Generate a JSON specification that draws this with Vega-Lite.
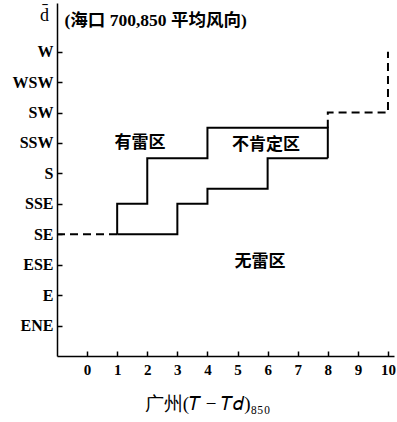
{
  "$schema": "https://vega.github.io/schema/vega-lite/v6.json",
  "width": 337,
  "height": 353,
  "autosize": {"type": "none"},
  "padding": {"left": 57, "top": 3, "right": 3, "bottom": 66},
  "background": "white",
  "config": {
    "view": {"stroke": null},
    "axis": {"grid": false, "domainColor": "black", "tickColor": "black", "labelColor": "black", "titleColor": "black", "domainWidth": 1.5, "tickWidth": 1.5}
  },
  "layer": [
    {
      "data": {"values": [
        {"g": "upper", "i": 1, "x": 1, "y": 4},
        {"g": "upper", "i": 2, "x": 1, "y": 5},
        {"g": "upper", "i": 3, "x": 2, "y": 5},
        {"g": "upper", "i": 4, "x": 2, "y": 6.5},
        {"g": "upper", "i": 5, "x": 4, "y": 6.5},
        {"g": "upper", "i": 6, "x": 4, "y": 7.5},
        {"g": "upper", "i": 7, "x": 8, "y": 7.5},
        {"g": "upper", "i": 8, "x": 8, "y": 6.5},
        {"g": "lower", "i": 1, "x": 1, "y": 4},
        {"g": "lower", "i": 2, "x": 3, "y": 4},
        {"g": "lower", "i": 3, "x": 3, "y": 5},
        {"g": "lower", "i": 4, "x": 4, "y": 5},
        {"g": "lower", "i": 5, "x": 4, "y": 5.5},
        {"g": "lower", "i": 6, "x": 6, "y": 5.5},
        {"g": "lower", "i": 7, "x": 6, "y": 6.5},
        {"g": "lower", "i": 8, "x": 8, "y": 6.5}
      ]},
      "mark": {"type": "line", "color": "black", "strokeWidth": 2, "interpolate": "linear"},
      "encoding": {
        "x": {"field": "x", "type": "quantitative",
          "scale": {"domain": [-1, 10.2], "nice": false, "zero": false},
          "axis": {"values": [0,1,2,3,4,5,6,7,8,9,10], "labelOverlap": false, "labelFlush": false, "tickCount": 11, "tickSize": -5, "labelPadding": 11, "labelFont": "Liberation Serif", "labelFontWeight": "bold", "labelFontSize": 15,
            "title": "广州(𝑇  −  𝑇𝑑)₈₅₀", "titleFont": "Liberation Serif", "titleFontWeight": "normal", "titleFontSize": 19, "titlePadding": 17, "titleX": 150}},
        "y": {"field": "y", "type": "quantitative",
          "scale": {"domain": [0, 11.6], "nice": false, "zero": false},
          "axis": {"values": [1,2,3,4,5,6,7,8,9,10], "labelOverlap": false, "labelFlush": false, "tickCount": 10, "tickSize": -5, "labelPadding": 9,
            "labelExpr": "['','ENE','E','ESE','SE','SSE','S','SSW','SW','WSW','W'][datum.value]",
            "labelFont": "Liberation Serif", "labelFontWeight": "bold", "labelFontSize": 16,
            "title": "d̄", "titleAngle": 0, "titleAnchor": "end", "titleAlign": "center", "titleBaseline": "top", "titleX": -13, "titleY": 3,
            "titleFont": "Liberation Serif", "titleFontWeight": "normal", "titleFontSize": 18}},
        "detail": {"field": "g"},
        "order": {"field": "i"}
      }
    },
    {
      "data": {"values": [
        {"g": "left", "i": 1, "x": -1, "y": 4},
        {"g": "left", "i": 2, "x": 1, "y": 4},
        {"g": "right", "i": 1, "x": 8, "y": 7.5},
        {"g": "right", "i": 2, "x": 8, "y": 8},
        {"g": "right", "i": 3, "x": 10, "y": 8},
        {"g": "right", "i": 4, "x": 10, "y": 10}
      ]},
      "mark": {"type": "line", "color": "black", "strokeWidth": 2, "strokeDash": [8, 5]},
      "encoding": {
        "x": {"field": "x", "type": "quantitative"},
        "y": {"field": "y", "type": "quantitative"},
        "detail": {"field": "g"},
        "order": {"field": "i"}
      }
    },
    {
      "data": {"values": [
        {"label": "有雷区", "x": 1.76, "y": 7.0},
        {"label": "不肯定区", "x": 5.95, "y": 6.95},
        {"label": "无雷区", "x": 5.75, "y": 3.1}
      ]},
      "mark": {"type": "text", "font": "Noto Sans CJK SC", "fontWeight": "bold", "fontSize": 17, "color": "black", "align": "center", "baseline": "middle"},
      "encoding": {
        "x": {"field": "x", "type": "quantitative"},
        "y": {"field": "y", "type": "quantitative"},
        "text": {"field": "label"}
      }
    },
    {
      "data": {"values": [
        {"label": "(海口 700,850 平均风向)", "x": -0.75, "y": 11.0}
      ]},
      "mark": {"type": "text", "font": "Liberation Serif, Noto Sans CJK SC", "fontWeight": "bold", "fontSize": 17.5, "color": "black", "align": "left", "baseline": "middle"},
      "encoding": {
        "x": {"field": "x", "type": "quantitative"},
        "y": {"field": "y", "type": "quantitative"},
        "text": {"field": "label"}
      }
    }
  ]
}
